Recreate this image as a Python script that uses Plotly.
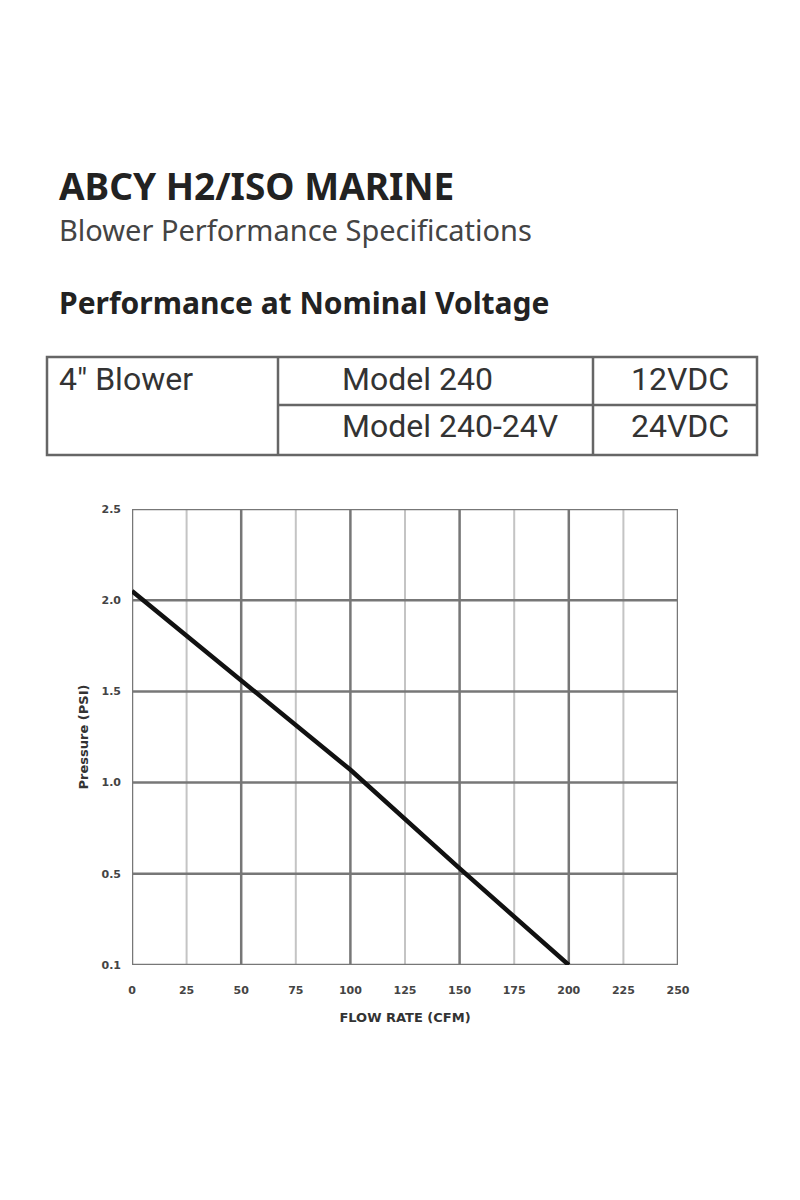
import plotly.graph_objects as go

# ---- data ----
flow_cfm = [0, 50, 100, 150, 200]
pressure_psi = [2.05, 1.56, 1.07, 0.53, 0.0]
x_ticks = [0, 25, 50, 75, 100, 125, 150, 175, 200, 225, 250]
y_tickvals = [0, 0.5, 1.0, 1.5, 2.0, 2.5]
y_ticktext = ["0.1", "0.5", "1.0", "1.5", "2.0", "2.5"]
title_main = "ABCY H2/ISO MARINE"
title_sub = "Blower Performance Specifications"
title_section = "Performance at Nominal Voltage"
table_group = "4\u2033 Blower"
table_models = ["Model 240", "Model 240-24V"]
table_volts = ["12VDC", "24VDC"]

# ---- layout geometry (page pixels; the page body adds an 8px offset) ----
OFF = 8
W, H = 800 - OFF, 1200 - OFF
L, R, T, B = 132, 678, 509, 965


def px(x):
    return (x - L) / (R - L)


def py(y):
    return (B - y) / (B - T)


fig = go.Figure()
fig.add_trace(go.Scatter(x=flow_cfm, y=pressure_psi, mode="lines",
                         line=dict(color="#111111", width=4.5),
                         showlegend=False, hoverinfo="skip", cliponaxis=False))

shapes = []
for v in x_ticks:
    if v % 50 != 0:
        shapes.append(dict(type="line", xref="x", yref="paper", x0=v, x1=v, y0=0, y1=1,
                           line=dict(color="#c4c4c4", width=2), layer="below"))
for v in x_ticks:
    if v % 50 == 0:
        shapes.append(dict(type="line", xref="x", yref="paper", x0=v, x1=v, y0=0, y1=1,
                           line=dict(color="#777777", width=2.5), layer="below"))
for v in y_tickvals:
    shapes.append(dict(type="line", xref="paper", yref="y", x0=0, x1=1, y0=v, y1=v,
                       line=dict(color="#777777", width=2.5), layer="below"))

# table
tcol = "#666666"
tw = 2.5
shapes.append(dict(type="rect", xref="paper", yref="paper", x0=px(47), x1=px(757),
                   y0=py(455), y1=py(357), line=dict(color=tcol, width=tw)))
for xv in (278, 593):
    shapes.append(dict(type="line", xref="paper", yref="paper", x0=px(xv), x1=px(xv),
                       y0=py(455), y1=py(357), line=dict(color=tcol, width=tw)))
shapes.append(dict(type="line", xref="paper", yref="paper", x0=px(278), x1=px(757),
                   y0=py(405), y1=py(405), line=dict(color=tcol, width=tw)))

ann = []


def text(s, x, y, size, family, color, xanchor="left", bold=False):
    ann.append(dict(text=("<b>%s</b>" % s) if bold else s, x=px(x), y=py(y),
                    xref="paper", yref="paper", showarrow=False,
                    xanchor=xanchor, yanchor="middle",
                    font=dict(size=size, family=family, color=color)))


text(title_main, 57, 185, 37, "Noto Sans", "#222222", bold=True)
text(title_sub, 57, 230, 29, "Noto Sans", "#444444")
text(title_section, 57, 302, 30, "Noto Sans", "#222222", bold=True)
text(table_group, 57, 379, 32, "Roboto", "#333333")
text(table_models[0], 340, 379, 32, "Roboto", "#333333")
text(table_models[1], 340, 426, 32, "Roboto", "#333333")
text(table_volts[0], 731, 379, 32, "Roboto", "#333333", xanchor="right")
text(table_volts[1], 731, 426, 32, "Roboto", "#333333", xanchor="right")

fig.update_layout(
    width=W, height=H,
    margin=dict(l=L - OFF, r=W - (R - OFF), t=T - OFF, b=H - (B - OFF), pad=0),
    paper_bgcolor="white", plot_bgcolor="white",
    shapes=shapes, annotations=ann,
    xaxis=dict(range=[0, 250], tickvals=x_ticks, ticktext=[str(v) for v in x_ticks],
               showgrid=False, zeroline=False, showline=False, ticks="",
               tickfont=dict(family="DejaVu Sans", size=11, color="#444444", weight="bold"),
               ticklabelstandoff=17,
               title=dict(text="<b>FLOW RATE (CFM)</b>", standoff=16,
                          font=dict(family="DejaVu Sans", size=13, color="#333333"))),
    yaxis=dict(range=[0, 2.5], tickvals=y_tickvals, ticktext=y_ticktext,
               showgrid=False, zeroline=False, showline=False, ticks="",
               tickfont=dict(family="DejaVu Sans", size=11, color="#444444", weight="bold"),
               ticklabelstandoff=10,
               title=dict(text="<b>Pressure (PSI)</b>", standoff=9,
                          font=dict(family="DejaVu Sans", size=13, color="#333333"))),
)

fig.write_html("out.html")
